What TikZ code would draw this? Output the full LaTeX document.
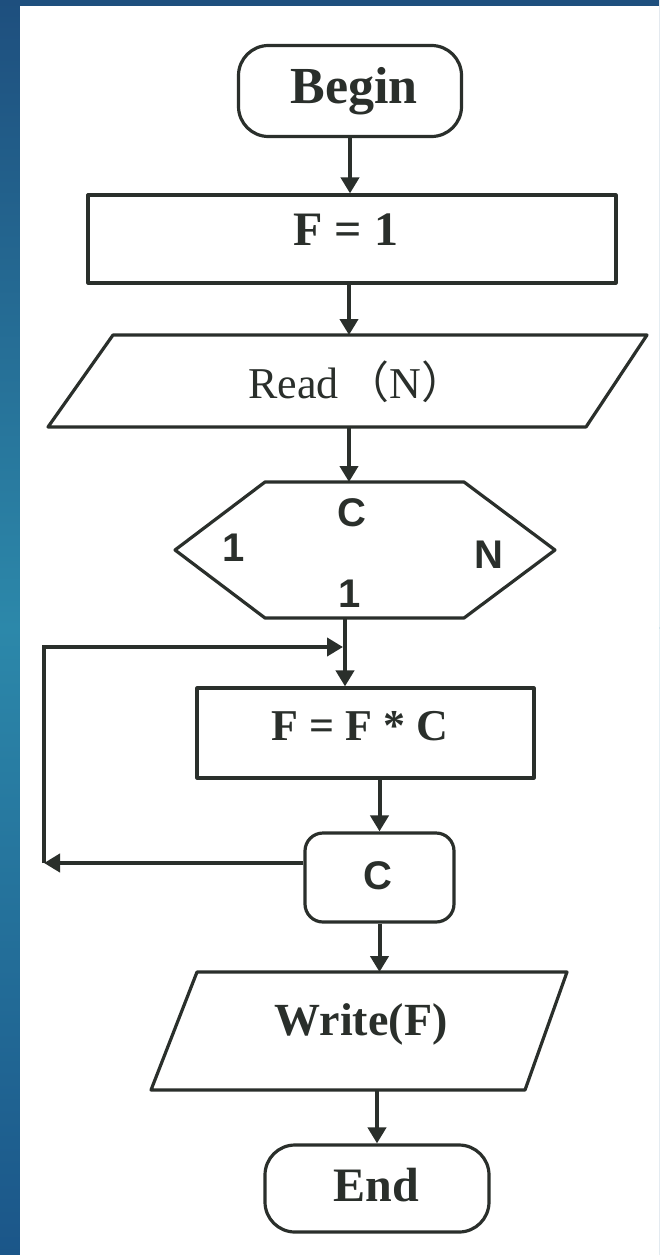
\documentclass[tikz,border=0pt]{standalone}
\usepackage{fontspec}
\setmainfont{Liberation Serif}
\newfontfamily\hsans{Liberation Sans}
\newfontfamily\cjk{Noto Sans CJK SC}
\usetikzlibrary{arrows.meta}
\definecolor{ink}{HTML}{2A2F2B}
\definecolor{bgtop}{HTML}{1E4F7E}
\definecolor{bgmid}{HTML}{2C88AA}
\definecolor{bgbot}{HTML}{1B5689}
\begin{document}
\begin{tikzpicture}[x=1pt,y=-1pt,
  shapeline/.style={draw=ink, line width=3.2pt, line join=round},
  arr/.style={draw=ink, line width=4pt, -{Triangle[width=18pt,length=16pt]}},
  lbl/.style={text=ink, inner sep=0pt, anchor=base},
  serifb/.style={lbl, font=\fontsize{48}{52}\selectfont\bfseries},
  sansb/.style={lbl, font=\fontsize{40}{44}\selectfont\hsans\bfseries},
  boxnode/.style={shapeline, rectangle, inner sep=0pt},
]
\useasboundingbox (0,0) rectangle (659,1255);
% background: blue frame and white page
\begin{scope}[y=1pt]
  \shade[top color=bgtop, bottom color=bgmid] (0,-628) rectangle (659,0);
  \shade[top color=bgmid, bottom color=bgbot] (0,-1255) rectangle (659,-627);
\end{scope}
\fill[white] (20,6) rectangle (659,1255);

% Begin
\node[boxnode, rounded corners=30pt, minimum width=223pt, minimum height=91pt] (begin) at (350,91) {};
\node[serifb, font=\fontsize{52}{56}\selectfont\bfseries] (begintxt) at (354,103) {Begin};

% F = 1
\node[boxnode, minimum width=528pt, minimum height=88pt] (f1) at (352,239) {};
\node[serifb] (f1txt) at (346,245) {F = 1};

% Read (N)
\draw[shapeline] (113,335) -- (647,335) -- (586,427) -- (48,427) -- cycle;
\coordinate (readT) at (349,335);
\coordinate (readB) at (349,427);
\node[lbl, font=\fontsize{44}{48}\selectfont] (readtxt) at (357,398) {Read\,{\cjk （}N{\cjk ）}};

% hexagon
\draw[shapeline] (265,482) -- (464,482) -- (555,550) -- (464,618) -- (265,618) -- (175,550) -- cycle;
\coordinate (hexT) at (349,482);
\coordinate (hexB) at (345,618);
\node[sansb] (hc) at (352,526) {C};
\node[sansb] (h1l) at (234,561) {1};
\node[sansb] (hn) at (489,568) {N};
\node[sansb] (h1b) at (350,607) {1};

% F = F * C
\node[boxnode, minimum width=337pt, minimum height=90pt] (ffc) at (365.5,733) {};
\node[serifb, font=\fontsize{44}{48}\selectfont\bfseries] (ffctxt) at (360,740) {F = F * C};

% C node
\node[boxnode, rounded corners=18pt, minimum width=149pt, minimum height=89pt] (cnode) at (379.5,877.5) {};
\node[sansb] (ctxt) at (378,889) {C};

% Write(F)
\draw[shapeline] (197,972) -- (567,972) -- (525,1090) -- (151,1090) -- cycle;
\coordinate (writeT) at (380,972);
\coordinate (writeB) at (378,1090);
\node[serifb, font=\fontsize{46}{50}\selectfont\bfseries] (writetxt) at (361,1035) {Write(F)};

% End
\node[boxnode, rounded corners=30pt, minimum width=224pt, minimum height=87pt] (endn) at (377,1188.5) {};
\node[serifb] (endtxt) at (376,1201) {End};

% connectors
\draw[arr] (begin.south) -- (begin.south |- f1.north);
\draw[arr] (readT |- f1.south) -- (readT);
\draw[arr] (readB) -- (hexT);
\draw[arr] (hexB) -- (hexB |- ffc.north);
\draw[arr] (cnode.north |- ffc.south) -- (cnode.north);
\draw[arr] (cnode.south) -- (cnode.south |- writeT);
\draw[arr] (endn.north |- writeB) -- (endn.north);

% loop
\coordinate (lb) at (44,863);
\coordinate (lt) at (44,647);
\draw[arr] (lb -| cnode.west) -- (lb);
\draw[arr, line join=miter] (lb) -- (lt) -- ([xshift=-2pt]lt -| hexB);
\end{tikzpicture}
\end{document}
